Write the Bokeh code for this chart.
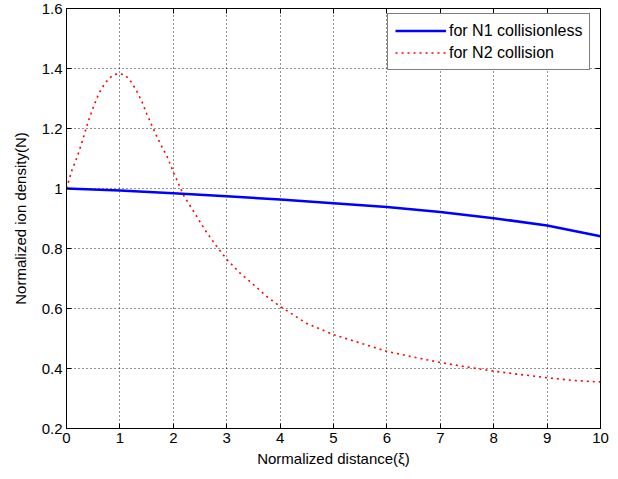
from bokeh.plotting import figure
from bokeh.models import (LinearAxis, Range1d, Legend, LegendItem, FixedTicker,
                          CustomJSTickFormatter, ColumnDataSource)
from bokeh.embed import file_html
from bokeh.resources import INLINE

# ---- data ----
x_n1 = [0, 1, 2, 3, 4, 5, 6, 7, 8, 9, 10]
n1_collisionless = [1.0, 0.993, 0.984, 0.974, 0.963, 0.951, 0.938, 0.922, 0.901, 0.877, 0.841]

x_n2 = [0, 0.1, 0.2, 0.3, 0.4, 0.5, 0.6, 0.7, 0.8, 0.9, 1.0, 1.1, 1.2, 1.3, 1.4,
        1.5, 1.6, 1.7, 1.8, 1.9, 2.0, 2.2, 2.4, 2.6, 2.8, 3.0, 3.25, 3.5, 3.75,
        4.0, 4.5, 5.0, 5.5, 6.0, 6.5, 7.0, 7.5, 8.0, 8.5, 9.0, 9.5, 10.0]
n2_collision = [1.0, 1.06, 1.105, 1.16, 1.22, 1.27, 1.315, 1.345, 1.368, 1.38, 1.383,
                1.378, 1.358, 1.33, 1.295, 1.25, 1.21, 1.17, 1.135, 1.10, 1.055,
                0.975, 0.918, 0.86, 0.81, 0.764, 0.718, 0.68, 0.64, 0.607, 0.55,
                0.513, 0.485, 0.457, 0.438, 0.42, 0.405, 0.391, 0.38, 0.369, 0.36, 0.355]

x_ticks = [0, 1, 2, 3, 4, 5, 6, 7, 8, 9, 10]
y_ticks = [0.2, 0.4, 0.6, 0.8, 1.0, 1.2, 1.4, 1.6]
y_tick_labels = ["0.2", "0.4", "0.6", "0.8", "1", "1.2", "1.4", "1.6"]

label_n1 = "for N1 collisionless"
label_n2 = "for N2 collision"
x_title = "Normalized distance(\u03be)"
y_title = "Normalized ion density(N)"

FONT = "Liberation Sans"

p = figure(width=618, height=479, x_range=Range1d(0, 10), y_range=Range1d(0.2, 1.6),
           output_backend="svg", toolbar_location=None,
           min_border_left=66, min_border_right=18, min_border_top=8, min_border_bottom=51)
p.styles = {"position": "absolute", "left": "0px", "top": "0px"}
p.background_fill_color = "white"
p.border_fill_color = "white"
p.outline_line_color = "black"
p.outline_line_width = 1

src1 = ColumnDataSource(dict(x=x_n1, y=n1_collisionless))
src2 = ColumnDataSource(dict(x=x_n2, y=n2_collision))
r1 = p.line("x", "y", source=src1, line_color="#0000ff", line_width=2.5)
r2 = p.line("x", "y", source=src2, line_color="#ff0000", line_width=1.6, line_dash="2 4")

ylab = CustomJSTickFormatter(args=dict(tvals=y_ticks, tlabels=y_tick_labels),
                             code="const i = tvals.findIndex(t => Math.abs(t - tick) < 1e-9); return i >= 0 ? tlabels[i] : '';")

for ax in p.xaxis:
    ax.ticker = FixedTicker(ticks=x_ticks)
for ax in p.yaxis:
    ax.ticker = FixedTicker(ticks=y_ticks)
    ax.formatter = ylab

for ax in list(p.xaxis) + list(p.yaxis):
    ax.major_tick_in = 5
    ax.major_tick_out = 0
    ax.minor_tick_line_color = None
    ax.axis_line_color = "black"
    ax.major_tick_line_color = "black"
    ax.major_label_text_font = FONT
    ax.major_label_text_font_size = "15px"
    ax.major_label_text_color = "black"
    ax.axis_label_text_font = FONT
    ax.axis_label_text_font_size = "15px"
    ax.axis_label_text_font_style = "normal"
    ax.axis_label_text_color = "black"

p.xaxis.axis_label = x_title
p.yaxis.axis_label = y_title
p.xaxis.major_label_standoff = 4
p.xaxis.axis_label_standoff = 4
p.yaxis.major_label_standoff = 4
p.yaxis.axis_label_standoff = 10

empty = CustomJSTickFormatter(code="return '';")
top = LinearAxis(ticker=FixedTicker(ticks=x_ticks), formatter=empty)
right = LinearAxis(ticker=FixedTicker(ticks=y_ticks), formatter=empty)
for ax in (top, right):
    ax.major_tick_in = 5
    ax.major_tick_out = 0
    ax.minor_tick_line_color = None
    ax.axis_line_color = "black"
    ax.major_tick_line_color = "black"
    ax.major_label_text_font_size = "0px"
    ax.major_label_standoff = 0
p.add_layout(top, "above")
p.add_layout(right, "right")

for g, t in ((p.xgrid, x_ticks), (p.ygrid, y_ticks)):
    g.ticker = FixedTicker(ticks=t)
    g.grid_line_color = "black"
    g.grid_line_alpha = 0.85
    g.grid_line_dash = "1 3"
    g.grid_line_width = 1

legend = Legend(items=[LegendItem(label=label_n1, renderers=[r1]),
                       LegendItem(label=label_n2, renderers=[r2])],
                location=(321, 358), margin=0, padding=7, spacing=3,
                label_height=19, glyph_height=19, glyph_width=51, label_standoff=3,
                border_line_color="black", border_line_width=1,
                background_fill_color="white", background_fill_alpha=1,
                label_text_font=FONT, label_text_font_size="16px", label_text_color="black")
p.add_layout(legend)

open("out.html", "w").write(file_html(p, INLINE))
